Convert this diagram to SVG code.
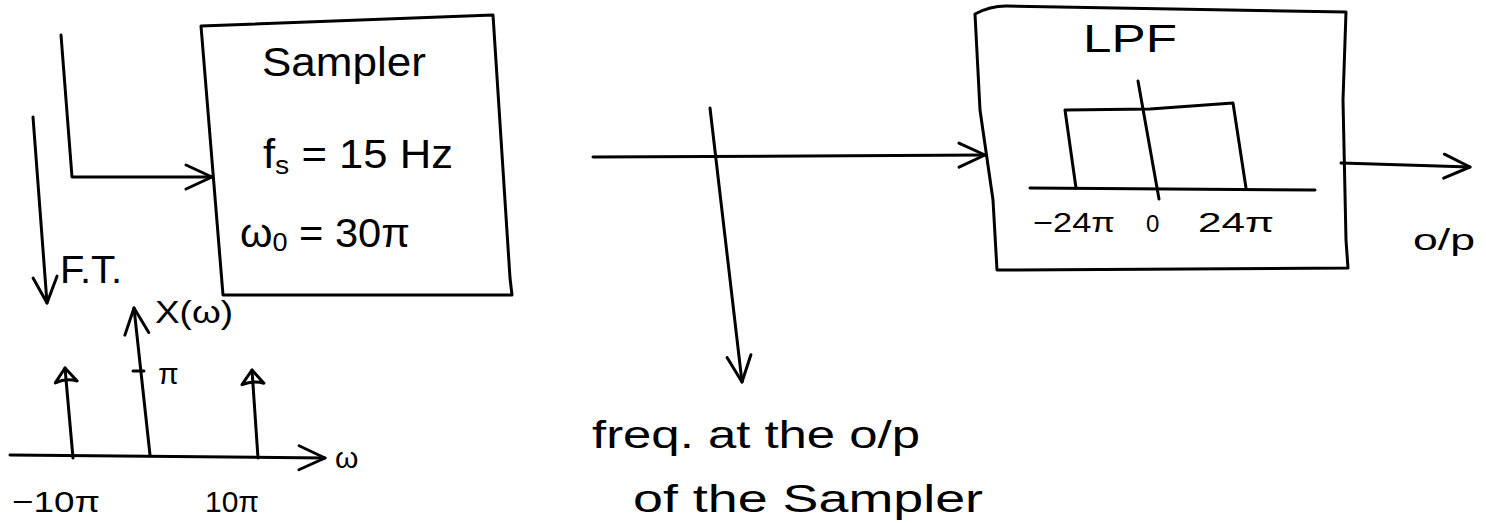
<svg xmlns="http://www.w3.org/2000/svg" width="1486" height="523" viewBox="0 0 1486 523">
<style>
.ln{fill:none;stroke:#000;stroke-width:3;stroke-linecap:round;stroke-linejoin:round}
.t{font-family:"Liberation Sans",Arial,sans-serif;fill:#000}
</style>
<defs>
<marker id="chev" markerUnits="userSpaceOnUse" markerWidth="40" markerHeight="40" refX="30" refY="15" orient="auto" viewBox="0 0 40 30">
<path d="M4,3 L30,15 L4,27" fill="none" stroke="#000" stroke-width="3" stroke-linecap="round" stroke-linejoin="round"/>
</marker>
<marker id="tri" markerUnits="userSpaceOnUse" markerWidth="30" markerHeight="30" refX="18" refY="15" orient="auto" viewBox="0 0 30 30">
<path d="M4,4 L18,15 L4,26 Q8,15 4,4 Z" fill="none" stroke="#000" stroke-width="3" stroke-linejoin="round"/>
</marker>
</defs>
<rect width="1486" height="523" fill="#fff"/>

<g id="connectors">
<path class="ln" d="M61,35 L72,177 L212,177" marker-end="url(#chev)"/>
<path class="ln" d="M33,117 L47,303" marker-end="url(#chev)"/>
<path class="ln" d="M593,157 L985,155" marker-end="url(#chev)"/>
<path class="ln" d="M710,108 L742,382" marker-end="url(#chev)"/>
<path class="ln" d="M1341,163 L1470,167" marker-end="url(#chev)"/>
</g>

<g id="sampler">
<polygon class="ln" points="201,26 493,15 510,278 512,295 223,295"/>
<text class="t" x="262" y="76" font-size="40" textLength="164" lengthAdjust="spacingAndGlyphs">Sampler</text>
<text class="t" x="263" y="168" font-size="40" textLength="190" lengthAdjust="spacingAndGlyphs">f<tspan font-size="26" dy="6">s</tspan><tspan dy="-6"> = 15 Hz</tspan></text>
<text class="t" x="240" y="247" font-size="40" textLength="170" lengthAdjust="spacingAndGlyphs">ω<tspan font-size="26" dy="4">0</tspan><tspan dy="-4"> = 30π</tspan></text>
</g>

<g id="ft-label">
<text class="t" x="60" y="283" font-size="38" textLength="62" lengthAdjust="spacingAndGlyphs">F.T.</text>
</g>

<g id="spectrum">
<path class="ln" d="M10,455 L325,458" marker-end="url(#chev)"/>
<text class="t" x="335" y="468" font-size="30">ω</text>
<path class="ln" d="M150,455 L134,308" marker-end="url(#chev)"/>
<text class="t" x="155" y="323" font-size="32" textLength="78" lengthAdjust="spacingAndGlyphs">X(ω)</text>
<path class="ln" d="M133,371 L144,371"/>
<text class="t" x="158" y="384" font-size="30">π</text>
<path class="ln" d="M73,458 L65,368" marker-end="url(#tri)"/>
<path class="ln" d="M258,458 L252,370" marker-end="url(#tri)"/>
<text class="t" x="12" y="512" font-size="30" textLength="88" lengthAdjust="spacingAndGlyphs">−10π</text>
<text class="t" x="205" y="512" font-size="30" textLength="54" lengthAdjust="spacingAndGlyphs">10π</text>
</g>

<g id="lpf">
<path class="ln" d="M975,14 Q990,6 1006,6 L1346,12 L1343,100 L1346,240 L1348,268 L997,270 L993,200 L980,110 L975,14 Z"/>
<text class="t" x="1083" y="52" font-size="38" textLength="94" lengthAdjust="spacingAndGlyphs">LPF</text>
<path class="ln" d="M1030,188 L1315,190"/>
<path class="ln" d="M1076,188 L1065,110 L1150,109 L1233,103 L1246,188"/>
<path class="ln" d="M1138,81 L1159,199"/>
<text class="t" x="1033" y="232" font-size="28" textLength="82" lengthAdjust="spacingAndGlyphs">−24π</text>
<text class="t" x="1146" y="232" font-size="24">0</text>
<text class="t" x="1198" y="232" font-size="28" textLength="76" lengthAdjust="spacingAndGlyphs">24π</text>
</g>

<g id="output-label">
<text class="t" x="1413" y="250" font-size="30" textLength="62" lengthAdjust="spacingAndGlyphs">o/p</text>
</g>

<g id="note">
<text class="t" x="592" y="448" font-size="38" textLength="328" lengthAdjust="spacingAndGlyphs">freq. at the o/p</text>
<text class="t" x="633" y="512" font-size="38" textLength="350" lengthAdjust="spacingAndGlyphs">of the Sampler</text>
</g>
</svg>
